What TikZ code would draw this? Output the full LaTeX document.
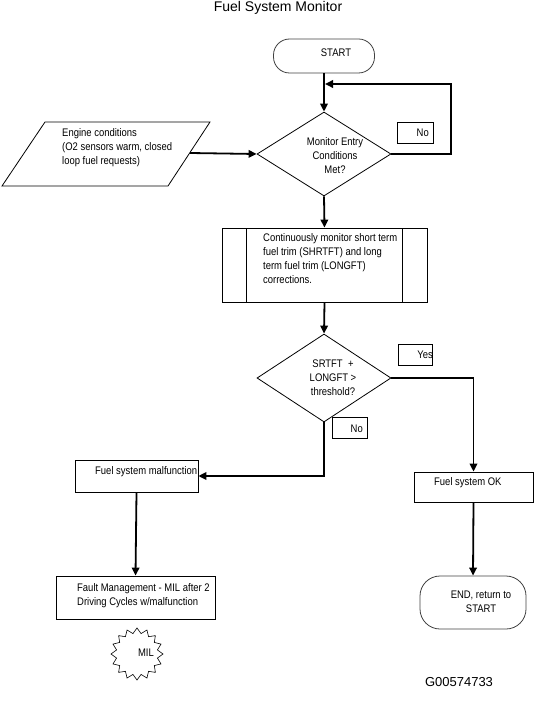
\documentclass[tikz,border=0pt]{standalone}
\usepackage{fontspec}
\setmainfont{Liberation Sans}
\newfontfamily\narrowfont[FakeStretch=0.86]{Liberation Sans}
\usetikzlibrary{arrows.meta,shapes.geometric}
\begin{document}
\begin{tikzpicture}[x=1pt,y=-1pt,
  txt/.style={font=\narrowfont\fontsize{11}{14}\selectfont,inner sep=0pt},
  boxthin/.style={draw,line width=0.8pt,inner sep=0pt},
  term/.style={draw=black!75,line width=0.8pt,rounded corners=16pt,inner sep=0pt},
  dia/.style={draw,line width=0.8pt,shape=diamond,inner sep=0pt,minimum width=134pt},
  lbl/.style={draw,line width=0.8pt,inner sep=0pt,minimum width=35pt,minimum height=21pt},
  flow/.style={line width=1.8pt,-{Triangle[length=8pt,width=7.5pt]}},
  plain/.style={line width=1.8pt}
]
\useasboundingbox (0,0) rectangle (548,703);

\node[font=\fontsize{14}{16}\selectfont,inner sep=0pt] (title) at (278,8) {Fuel System Monitor};

% START
\node[term,minimum width=101pt,minimum height=34pt] (start) at (324,56) {};
\node[txt] (startt) at (336,53) {START};

% decision 1
\node[dia,minimum height=84pt] (d1) at (324,154) {};
\node[txt,align=center] (d1t) at (335,156) {Monitor Entry\\Conditions\\Met?};

% engine conditions parallelogram
\draw[line width=0.8pt] (45,122) -- (210,122) -- (168,186) -- (2,186) -- cycle;
\coordinate (pe) at (190,153);
\node[txt,align=left,anchor=west] (engt) at (62,148) {Engine conditions\\(O2 sensors warm, closed\\loop fuel requests)};

% No label 1
\node[lbl,minimum width=36pt] (no1) at (415,132.5) {};
\node[txt,anchor=east] (no1t) at (429,133) {No};

% process
\node[boxthin,minimum width=205pt,minimum height=74pt] (proc) at (324.5,265) {};
\draw[line width=0.8pt] (246,228) -- (246,302);
\draw[line width=0.8pt] (402,228) -- (402,302);
\node[txt,align=left,anchor=north west] (proct) at (263,233) {Continuously monitor short term\\fuel trim (SHRTFT) and long\\term fuel trim (LONGFT)\\corrections.};

% decision 2
\node[dia,minimum height=88pt] (d2) at (324,378) {};
\node[txt,align=center] (d2t) at (333,378) {SRTFT \ +\\LONGFT >\\threshold?};

% Yes / No labels
\node[lbl,minimum width=34pt] (yes) at (415,354.5) {};
\node[txt,anchor=east] (yest) at (433,355) {Yes};
\node[lbl] (no2) at (349.5,428) {};
\node[txt,anchor=east] (no2t) at (363,429) {No};

% malfunction
\node[boxthin,minimum width=123pt,minimum height=32pt] (mal) at (136.5,476) {};
\node[txt,anchor=west] (malt) at (95,472) {Fuel system malfunction};

% fault management
\node[boxthin,minimum width=159pt,minimum height=43pt] (fault) at (135.5,597.5) {};
\node[txt,align=left,anchor=west] (faultt) at (77,595.5) {Fault Management - MIL after 2\\Driving Cycles w/malfunction};

% MIL starburst
\node[draw,line width=0.6pt,shape=star,star points=16,star point ratio=1.25,minimum size=52pt,inner sep=0pt] (mil) at (137,654) {};
\node[txt] (milt) at (146,653) {MIL};

% OK
\node[boxthin,minimum width=119pt,minimum height=30pt] (ok) at (473.5,487) {};
\node[txt,anchor=west] (okt) at (434,483) {Fuel system OK};

% END
\node[term,rounded corners=20pt,minimum width=106pt,minimum height=53pt] (endn) at (473,602.5) {};
\node[txt,align=center] (endt) at (481,602) {END, return to\\START};

\node[font=\fontsize{13}{15}\selectfont,inner sep=0pt] (gid) at (459,682) {G00574733};

% connectors
\coordinate (fb) at (325,84);
\draw[flow] (start.south) -- (d1.north);
\draw[flow] (d1.east) -- (451,154) -- (451,84) -- (fb);
\draw[flow] (pe) -- (d1.west);
\draw[flow] (d1.south) -- (proc.north);
\draw[flow] (proc.south) -- (d2.north);
\draw[flow] (d2.east) -- (473.5,378) -- (ok.north);
\draw[flow] (d2.south) -- (324,476) -- (mal.east);
\draw[flow] (mal.south) -- (fault.north);
\draw[flow] (ok.south) -- (endn.north);
\end{tikzpicture}
\end{document}
